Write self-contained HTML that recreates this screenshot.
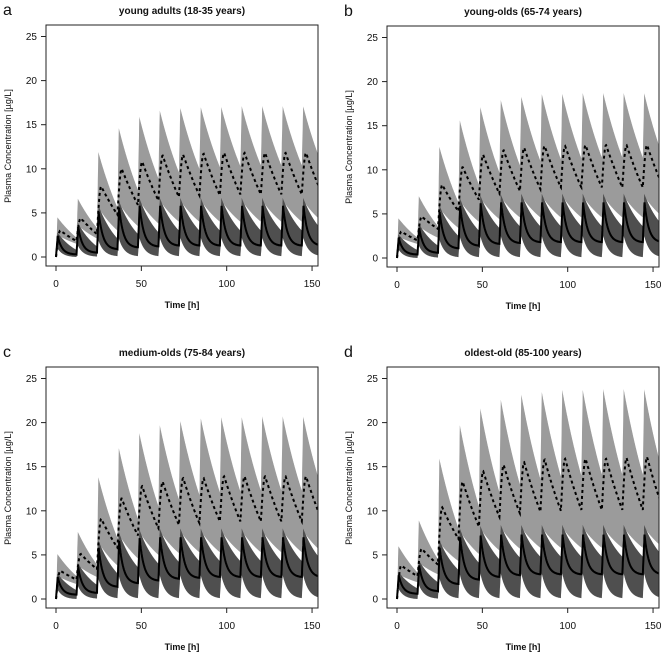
<!DOCTYPE html>
<html><head><meta charset="utf-8"><style>
html,body{margin:0;padding:0;background:#fff;}
svg{display:block;font-family:"Liberation Sans",Arial,sans-serif;}
</style></head>
<body>
<svg id="fig" width="661" height="653" viewBox="0 0 661 653"></svg>
<script>
// Data: per panel (a,b,c,d), per dosing interval (doses every 12 h)
const panelTitles = ["young adults (18-35 years)","young-olds (65-74 years)","medium-olds (75-84 years)","oldest-old (85-100 years)"];
const panelLetters = ["a","b","c","d"];
const yTicks = [0,5,10,15,20,25];
const xTicks = [0,50,100,150];
const doseInterval = 12;

const lightUpperPeak = [
 [4.5,6.6,11.9,14.6,15.9,16.6,16.9,17.0,17.0,17.1,17.1,17.1,17.1],
 [4.5,7.0,12.6,15.6,17.1,17.9,18.3,18.6,18.6,18.7,18.7,18.7,18.7],
 [5.1,7.6,13.8,17.1,18.8,19.7,20.2,20.5,20.6,20.6,20.7,20.7,20.7],
 [6.0,8.9,15.9,19.7,21.6,22.6,23.2,23.5,23.7,23.7,23.8,23.8,23.8]];
const lightUpperTrough = [
 [2.2,3.3,5.6,7.6,8.9,9.6,10.0,10.2,10.3,10.4,10.4,10.4,10.4],
 [2.3,3.6,6.3,8.3,9.7,10.5,11.0,11.2,11.3,11.4,11.4,11.4,11.4],
 [2.6,3.9,6.9,9.1,10.5,11.3,11.8,12.1,12.2,12.3,12.3,12.3,12.3],
 [3.0,4.5,8.0,10.5,12.1,13.0,13.6,13.9,14.0,14.1,14.1,14.1,14.1]];
const lightLowerPeak = [
 [2.5,3.6,5.6,6.1,6.4,6.4,6.4,6.4,6.4,6.4,6.4,6.4,6.4],
 [2.4,3.6,5.7,6.5,6.8,6.9,7.0,7.0,7.0,7.0,7.0,7.0,7.0],
 [2.6,3.8,6.4,7.3,7.6,7.7,7.7,7.7,7.7,7.7,7.7,7.7,7.7],
 [2.8,4.1,6.4,7.7,8.0,8.1,8.1,8.1,8.1,8.1,8.1,8.1,8.1]];
const lightLowerTrough = [
 [1.5,2.1,3.0,3.5,3.8,4.0,4.0,4.0,4.0,4.0,4.0,4.0,4.0],
 [1.6,2.3,3.4,4.1,4.4,4.6,4.6,4.6,4.6,4.6,4.6,4.6,4.6],
 [1.7,2.5,3.8,4.6,5.0,5.2,5.3,5.3,5.3,5.3,5.3,5.3,5.3],
 [1.9,2.8,4.3,5.1,5.5,5.7,5.8,5.8,5.8,5.8,5.8,5.8,5.8]];
const darkUpperPeak = [
 [2.8,3.9,5.9,6.4,6.7,6.7,6.7,6.7,6.7,6.7,6.7,6.7,6.7],
 [2.7,3.9,6.0,6.8,7.1,7.2,7.3,7.3,7.3,7.3,7.3,7.3,7.3],
 [2.9,4.1,6.7,7.6,7.9,8.0,8.0,8.0,8.0,8.0,8.0,8.0,8.0],
 [3.1,4.4,6.7,8.0,8.3,8.4,8.4,8.4,8.4,8.4,8.4,8.4,8.4]];
const darkUpperTrough = [
 [0.8,1.2,2.1,2.6,2.8,3.0,3.0,3.0,3.0,3.0,3.0,3.0,3.0],
 [0.9,1.4,2.5,3.1,3.4,3.6,3.6,3.6,3.6,3.6,3.6,3.6,3.6],
 [1.0,1.6,2.9,3.6,4.0,4.2,4.3,4.3,4.3,4.3,4.3,4.3,4.3],
 [1.2,1.9,3.3,4.1,4.5,4.7,4.8,4.8,4.8,4.8,4.8,4.8,4.8]];
const darkLowerPeak = [
 [1.0,1.3,1.9,2.1,2.2,2.2,2.2,2.2,2.2,2.2,2.2,2.2,2.2],
 [1.0,1.4,2.1,2.4,2.5,2.5,2.5,2.5,2.5,2.5,2.5,2.5,2.5],
 [1.1,1.5,2.3,2.6,2.7,2.7,2.7,2.7,2.7,2.7,2.7,2.7,2.7],
 [1.2,1.6,2.4,2.8,2.9,2.9,2.9,2.9,2.9,2.9,2.9,2.9,2.9]];
const darkLowerTrough = [
 [0.0,0.05,0.1,0.1,0.1,0.1,0.1,0.1,0.1,0.1,0.1,0.1,0.1],
 [0.0,0.05,0.1,0.1,0.1,0.1,0.1,0.1,0.1,0.1,0.1,0.1,0.1],
 [0.0,0.05,0.1,0.1,0.1,0.1,0.1,0.1,0.1,0.1,0.1,0.1,0.1],
 [0.0,0.05,0.1,0.1,0.1,0.1,0.1,0.1,0.1,0.1,0.1,0.1,0.1]];
const dashedPeak = [
 [3.0,4.4,8.0,10.0,10.8,11.5,11.6,11.7,11.8,11.8,11.8,11.8,11.8],
 [3.0,4.7,8.3,10.3,11.7,12.2,12.5,12.7,12.7,12.8,12.8,12.8,12.8],
 [3.2,5.1,9.1,11.4,12.8,13.3,13.7,13.7,13.9,13.9,13.9,13.9,13.9],
 [3.8,5.7,10.4,13.3,14.5,15.2,15.5,15.8,15.9,15.9,15.9,16.0,16.1]];
const dashedTrough = [
 [1.8,2.6,4.8,5.9,6.4,6.8,7.0,7.0,7.1,7.1,7.1,7.1,7.1],
 [2.0,3.3,5.3,6.6,7.3,7.6,7.8,8.0,8.0,8.0,8.0,8.0,8.0],
 [2.2,3.4,5.8,7.2,8.0,8.4,8.6,8.8,8.8,8.8,8.8,8.8,8.8],
 [2.6,3.9,6.8,8.2,9.3,9.7,9.9,10.0,10.1,10.1,10.1,10.1,10.1]];
const solidPeak = [
 [2.4,3.4,5.1,5.6,5.8,5.8,5.8,5.8,5.8,5.8,5.8,5.8,5.8],
 [2.3,3.4,5.2,5.9,6.2,6.3,6.3,6.3,6.3,6.3,6.3,6.3,6.3],
 [2.5,3.6,5.8,6.6,6.9,7.0,7.0,7.0,7.0,7.0,7.0,7.0,7.0],
 [2.7,3.8,5.8,7.0,7.2,7.3,7.3,7.3,7.3,7.3,7.3,7.3,7.3]];
const solidTrough = [
 [0.3,0.5,0.9,1.1,1.2,1.3,1.3,1.3,1.3,1.3,1.3,1.3,1.3],
 [0.4,0.6,1.1,1.4,1.6,1.7,1.8,1.8,1.8,1.8,1.8,1.8,1.8],
 [0.5,0.7,1.4,1.8,2.1,2.3,2.4,2.5,2.5,2.5,2.5,2.5,2.5],
 [0.6,0.9,1.7,2.2,2.5,2.7,2.8,2.8,2.8,2.8,2.8,2.8,2.8]];

const NS = "http://www.w3.org/2000/svg";
const svg = document.getElementById("fig");
function mk(tag, attrs, parent){const e=document.createElementNS(NS,tag);for(const k in attrs)e.setAttribute(k,attrs[k]);(parent||svg).appendChild(e);return e;}

const offsets = [[0,0],[341,1],[0,342],[341,342]];
const TMAX = 153.6;

function curve(peaks, troughs, tp, k, ease){
  const pts=[];
  for(let t=0;t<=TMAX+0.001;t+=0.1){
    let i=Math.min(Math.floor(t/doseInterval),peaks.length-1);
    const tau=t-i*doseInterval;
    const S=i===0?0:troughs[i-1], P=peaks[i], T=troughs[i];
    let v;
    if(tau<tp){const f=tau/tp; v=S+(P-S)*(ease?Math.sin(f*Math.PI/2):f);}
    else{const E=Math.exp(-k*(doseInterval-tp)); v=T+(P-T)*(Math.exp(-k*(tau-tp))-E)/(1-E);}
    pts.push([t,v]);
  }
  return pts;
}

for(let p=0;p<4;p++){
  const [ox,oy]=offsets[p];
  const g=mk("g",{});
  
  
  const X=t=>ox+56+t*1.707;
  const Y=v=>oy+257-v*8.82;
  const L=ox+46,R=Math.min(ox+318,660),T=oy+25,B=oy+266;
  const cp=mk("clipPath",{id:"clip"+p},g);
  mk("rect",{x:L,y:T,width:R-L,height:B-T},cp);
  const plot=mk("g",{"clip-path":"url(#clip"+p+")"},g);
  const toStr=a=>a.map(q=>X(q[0]).toFixed(1)+","+Y(q[1]).toFixed(1)).join(" ");
  const lu=curve(lightUpperPeak[p],lightUpperTrough[p],0.8,0.04,false);
  const ll=curve(lightLowerPeak[p],lightLowerTrough[p],0.8,0.05,false);
  const lb=mk("polygon",{points:toStr(lu)+" "+toStr(ll.slice().reverse()),fill:"#9b9b9b"},plot);
  
  
  const du=curve(darkUpperPeak[p],darkUpperTrough[p],0.8,0.08,false);
  const dl=curve(darkLowerPeak[p],darkLowerTrough[p],0.8,0.3,false);
  const db=mk("polygon",{points:toStr(du)+" "+toStr(dl.slice().reverse()),fill:"#4f4f4f"},plot);
  
  
  const dsh=mk("polyline",{points:toStr(curve(dashedPeak[p],dashedTrough[p],2.5,0.03,true)),fill:"none",stroke:"#000","stroke-width":2,"stroke-dasharray":"3,3"},plot);
  
  
  const sol=mk("polyline",{points:toStr(curve(solidPeak[p],solidTrough[p],1.0,0.4,false)),fill:"none",stroke:"#000","stroke-width":2},plot);
  
  
  const fr=mk("rect",{x:L,y:T,width:R-L,height:B-T,fill:"none",stroke:"#222","stroke-width":1},g);
  
  
  yTicks.forEach(v=>{
    mk("line",{x1:L-5,x2:L,y1:Y(v),y2:Y(v),stroke:"#222"},g);
    const t=mk("text",{x:L-9,y:Y(v)+3.5,"text-anchor":"end","font-size":10,fill:"#111"},g);
    t.textContent=v;
    
    
  });
  xTicks.forEach(v=>{
    mk("line",{x1:X(v),x2:X(v),y1:B,y2:B+5,stroke:"#222"},g);
    const t=mk("text",{x:X(v),y:B+21,"text-anchor":"middle","font-size":10,fill:"#111"},g);
    t.textContent=v;
    
    
  });
  const xt=mk("text",{x:(L+ox+318)/2,y:oy+308,"text-anchor":"middle","font-size":9,"font-weight":"bold",fill:"#111"},g);
  xt.textContent="Time [h]";
  
  
  const yt=mk("text",{x:0,y:0,"text-anchor":"middle","font-size":9,fill:"#111",transform:"translate("+(ox+11)+","+(oy+146)+") rotate(-90)"},g);
  yt.textContent="Plasma Concentration [µg/L]";
  
  
  const ti=mk("text",{x:(L+ox+318)/2,y:oy+14,"text-anchor":"middle","font-size":10,"font-weight":"bold",fill:"#111"},g);
  ti.textContent=panelTitles[p];
  
  
  const le=mk("text",{x:ox+3,y:oy+15,"font-size":16,fill:"#111"},g);
  le.textContent=panelLetters[p];
  
  
}
</script>
</body></html>
